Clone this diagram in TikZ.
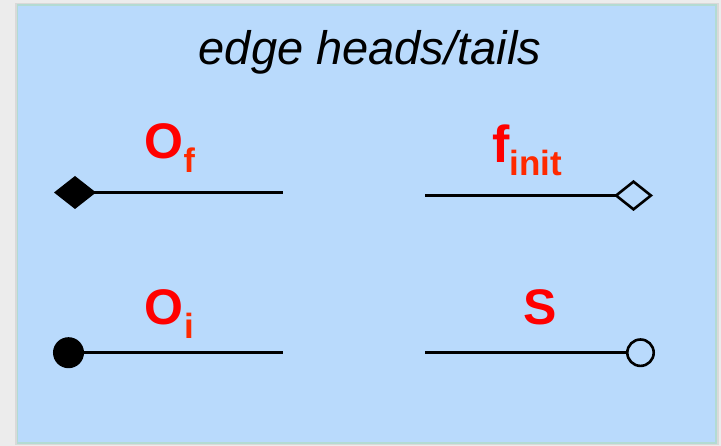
\documentclass[tikz,border=0pt]{standalone}
\usepackage{fontspec}
\setmainfont{Liberation Sans}
\usetikzlibrary{arrows.meta}
\definecolor{panelblue}{HTML}{B9DAFC}
\definecolor{paneledge}{HTML}{B3DBD3}
\definecolor{pagegray}{HTML}{ECECEC}
\definecolor{subred}{HTML}{FF2A00}

\begin{document}
\begin{tikzpicture}[x=1pt, y=-1pt,
    edgeline/.style={line width=2.6pt},
    tag/.style={red, inner sep=0pt, anchor=base west, font=\bfseries}]
  % Page, shadow and the blue panel.
  \fill[pagegray] (0,0) rectangle (721,446);
  \fill[gray!30] (15,3) rectangle (718.5,445);
  \draw[paneledge, fill=panelblue, line width=1.5pt] (17.5,5) rectangle (716,443);
  % Title.
  \node[anchor=base, inner sep=0pt, font=\itshape\fontsize{47}{56}\selectfont]
    (title) at (370,65) {edge heads/tails};
  % O_f: filled diamond tail.
  \node[tag] (oflabel) at (144,159)
    {\fontsize{50}{60}\selectfont O\kern0.5pt\raisebox{-14pt}{\color{subred}\fontsize{34}{40}\selectfont f}};
  \coordinate (ofstart) at (54,192.5);
  \coordinate (ofend) at (283,192.5);
  \draw[edgeline, {Diamond[length=42pt, width=33pt]}-] (ofstart) -- (ofend);
  % f_init: open diamond head.
  \node[tag] (finitlabel) at (492,163)
    {\fontsize{52}{60}\selectfont f\raisebox{-13pt}{\color{subred}\fontsize{35}{42}\selectfont init}};
  \coordinate (finitstart) at (425,195.5);
  \coordinate (finitend) at (653,195.5);
  \draw[edgeline, -{Diamond[open, length=39pt, width=31pt]}] (finitstart) -- (finitend);
  % O_i: filled circle tail.
  \node[tag] (oilabel) at (144,325)
    {\fontsize{50}{60}\selectfont O\kern1pt\raisebox{-14pt}{\color{subred}\fontsize{35}{40}\selectfont i}};
  \coordinate (oistart) at (53,352.7);
  \coordinate (oiend) at (283,352.7);
  \draw[edgeline, {Circle[length=31pt]}-] (oistart) -- (oiend);
  % S: open circle head.
  \node[tag, anchor=base] (slabel) at (540,325) {\fontsize{50}{60}\selectfont S};
  \coordinate (sstart) at (425,352.7);
  \coordinate (send) at (655,352.7);
  \draw[edgeline, -{Circle[open, length=29pt]}] (sstart) -- (send);
\end{tikzpicture}
\end{document}
